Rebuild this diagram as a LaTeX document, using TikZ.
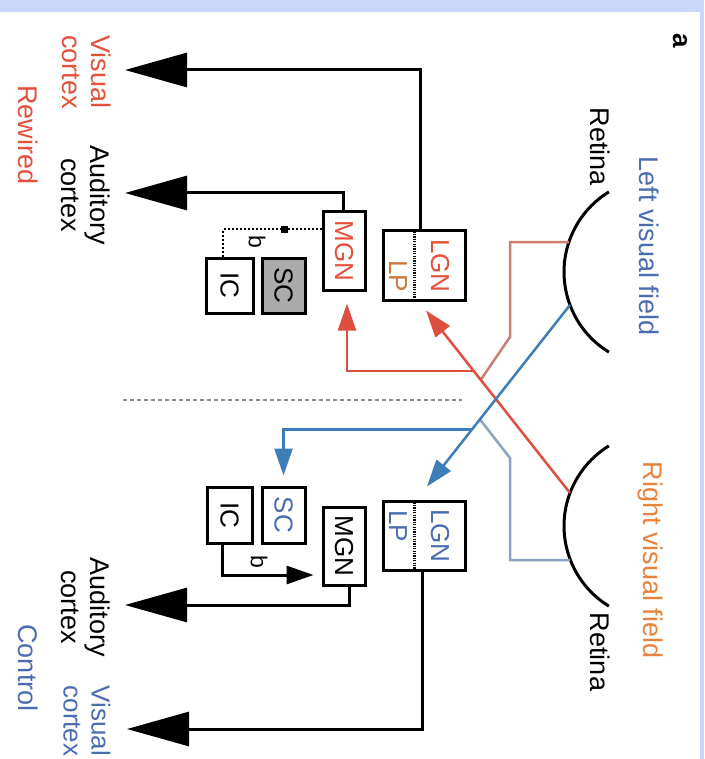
\documentclass[tikz,border=0pt]{standalone}
\usepackage{fontspec}
\setmainfont{Liberation Sans}
\usepackage{graphicx}
\usetikzlibrary{arrows.meta,calc}
\definecolor{bandblue}{HTML}{C9D8FA}
\definecolor{textred}{HTML}{E5503C}
\definecolor{lporange}{HTML}{C8783C}
\definecolor{orangeR}{HTML}{E8823C}
\definecolor{textblue}{HTML}{4A6CB0}
\definecolor{redA}{HTML}{DD5040}
\definecolor{redB}{HTML}{C98070}
\definecolor{blueA}{HTML}{3D7DB8}
\definecolor{blueB}{HTML}{8CA4C4}
\definecolor{scgray}{HTML}{ABABAB}
\definecolor{dashgray}{HTML}{8A8A8A}
\begin{document}
\begin{tikzpicture}[x=1pt,y=-1pt,
  box/.style={draw=black, line width=3pt, inner sep=0pt, fill=white, font=\fontsize{26}{26}\selectfont},
  boxtxt/.style={rotate=-90, inner sep=0pt, font=\fontsize{26}{26}\selectfont},
  lbl/.style={rotate=-90, inner sep=0pt, align=center, font=\fontsize{27}{29}\selectfont},
  blk/.style={draw=black, line width=3pt},
  bigarrow/.style={blk, -{Triangle[length=62pt,width=34pt]}},
  midarrow/.style={-{Triangle[length=27pt,width=18pt]}},
  retina/.style={draw=black, line width=3pt},
  colline/.style={line width=2.5pt},
  dotline/.style={draw=black, line width=2pt, dash pattern=on 2pt off 2pt},
  divider/.style={draw=black, line width=3pt, dash pattern=on 1.2pt off 1.2pt},
  blbl/.style={rotate=-90, inner sep=0pt, font=\fontsize{23}{23}\selectfont},
]
\useasboundingbox (0,0) rectangle (704,759);
\clip (0,0) rectangle (704,759);
\fill[white] (0,0) rectangle (704,759);
\fill[bandblue] (0,0) rectangle (704,12);
\fill[bandblue] (700,0) rectangle (704,759);

% label a
\node[rotate=-90, inner sep=0pt, font=\bfseries\fontsize{26}{26}\selectfont] (lbla) at (680,41) {a};

% retinas
\draw[retina] (658,272) ++(121.5:94) arc[start angle=121.5, end angle=238.5, radius=94];
\draw[retina] (658,526) ++(121.5:94) arc[start angle=121.5, end angle=238.5, radius=94];
\node[lbl] (retA) at (600,147) {Retina};
\node[lbl] (retB) at (600,652) {Retina};
\node[lbl, text=textblue] (lvf) at (649,246) {Left visual field};
\node[lbl, text=orangeR] (rvf) at (650,560) {Right visual field};

% top (rewired) boxes
\node[box, minimum width=82pt, minimum height=70pt] (lgnA) at (424,265) {};
\draw[divider] (414,231.5) -- (414,298.5);
\node[boxtxt, text=textred] (lgnAt) at (440,266) {LGN};
\node[boxtxt, text=lporange] (lpAt) at (398,276) {LP};
\node[box, minimum width=42pt, minimum height=78pt, text=textred] (mgnA) at (344,251) {\rotatebox{-90}{MGN}};
\node[box, fill=scgray, minimum width=43pt, minimum height=55pt] (scA) at (283.5,285.5) {\rotatebox{-90}{SC}};
\node[box, minimum width=47pt, minimum height=55pt] (icA) at (229.5,285.5) {\rotatebox{-90}{IC}};

% bottom (control) boxes
\node[box, minimum width=82pt, minimum height=69pt] (lgnB) at (424,535.5) {};
\draw[divider] (414,502.5) -- (414,568.5);
\node[boxtxt, text=textblue] (lgnBt) at (440,536) {LGN};
\node[boxtxt, text=textblue] (lpBt) at (398,526) {LP};
\node[box, minimum width=42pt, minimum height=78pt] (mgnB) at (344,546) {\rotatebox{-90}{MGN}};
\node[box, minimum width=43pt, minimum height=56pt, text=textblue] (scB) at (283.5,515) {\rotatebox{-90}{SC}};
\node[box, minimum width=45pt, minimum height=56pt] (icB) at (229.5,515) {\rotatebox{-90}{IC}};

% cortex labels
\node[lbl, text=textred] (vcA) at (87,72) {Visual\\cortex};
\node[lbl] (acA) at (86,195) {Auditory\\cortex};
\node[lbl, text=textred] (rew) at (28,135) {Rewired};
\node[lbl] (acB) at (86,607) {Auditory\\cortex};
\node[lbl, text=textblue, font=\fontsize{26}{28}\selectfont] (vcB) at (87,721) {Visual\\cortex};
\node[lbl, text=textblue] (ctl) at (28,668) {Control};

% arrow tips at cortex
\coordinate (vtipA) at (125,70);
\coordinate (atipA) at (125,193);
\coordinate (atipB) at (125,605);
\coordinate (vtipB) at (127,729);

\draw[bigarrow] ([xshift=-4pt]lgnA.north) |- (vtipA);
\draw[bigarrow] ([xshift=-1pt]mgnA.north) |- (atipA);
\draw[bigarrow] ([xshift=5pt]mgnB.south) |- (atipB);
\draw[bigarrow] ([xshift=-2pt]lgnB.south) |- (vtipB);

% IC -> MGN
\draw[dotline] ([yshift=22pt]mgnA.west) -| ([xshift=-6.5pt]icA.north);
\node[fill=black, minimum width=7pt, minimum height=7pt, inner sep=0pt] (stopA) at (284,229) {};
\node[blbl] (bA) at (257,242) {b};
\draw[blk, midarrow] ([xshift=-7.5pt]icB.south) |- ([yshift=-29pt,xshift=-8pt]mgnB.west);
\node[blbl] (bB) at (259,562) {b};

% divider
\draw[dashgray, line width=1.5pt, dash pattern=on 4pt off 3pt] (123,400) -- (462,400);

% retinal projections
\coordinate (rAr) at (569,242);
\coordinate (rAb) at (570,305);
\coordinate (rBr) at (570,493);
\coordinate (rBb) at (570,560);
\coordinate (tipLA) at ([xshift=2pt,yshift=-9pt]lgnA.south);
\coordinate (tipLB) at ([xshift=3pt,yshift=13pt]lgnB.north);
\coordinate (brR) at ($(rBr)!0.668!(tipLA)$);
\coordinate (mgR) at ($(rBr)!0.62!(tipLA)$);
\coordinate (brB) at ($(rAb)!0.685!(tipLB)$);
\coordinate (mgB) at ($(rAb)!0.63!(tipLB)$);
\coordinate (bendR) at (510,337);
\coordinate (bendB) at (510,458);

\draw[redB, colline] (rAr) -| (bendR) -- (mgR);
\draw[blueB, colline] (rBb) -| (bendB) -- (mgB);
\draw[redA, colline, midarrow] (brR) -| ([xshift=3pt,yshift=-12pt]mgnA.south);
\draw[blueA, colline, midarrow] (brB) -| ([yshift=10pt]scB.north);
\draw[redA, colline, midarrow] (rBr) -- (tipLA);
\draw[blueA, colline, midarrow] (rAb) -- (tipLB);
\end{tikzpicture}
\end{document}
